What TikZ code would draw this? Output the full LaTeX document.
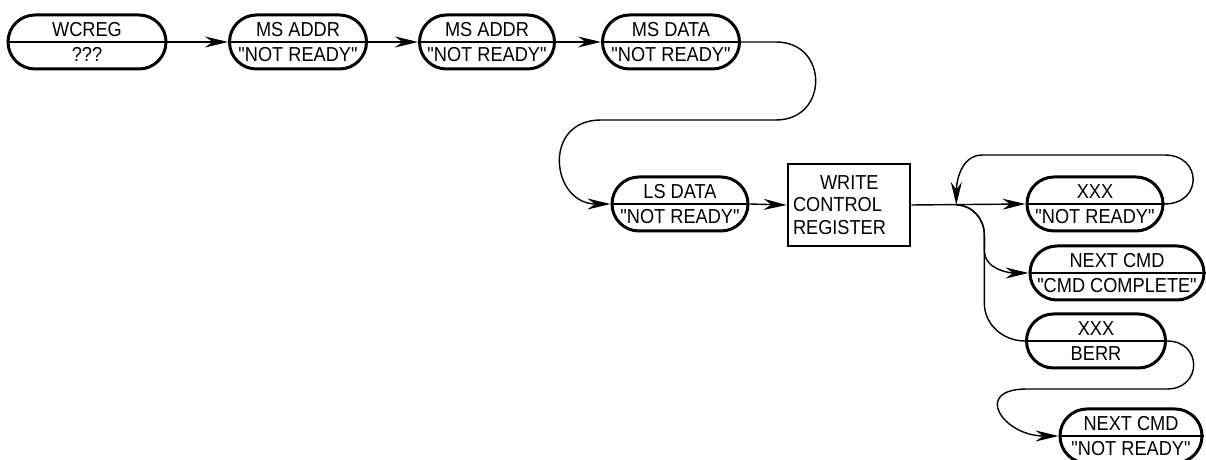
\documentclass[tikz,border=0pt]{standalone}
\usepackage{fontspec}
\setmainfont{Liberation Sans}[Ligatures=TeXOff, FakeStretch=0.9]
\usetikzlibrary{arrows.meta}

\begin{document}
\begin{tikzpicture}[
    x=0.2mm, y=0.2mm,
    state/.style={rectangle, draw, line width=1.7pt, rounded corners=5.4mm, minimum height=10.8mm, inner sep=0pt, align=center, font=\fontsize{11.5}{14.4}\selectfont},
    block/.style={rectangle, draw, line width=1.5pt, minimum width=24.4mm, minimum height=16.4mm, text width=22.4mm, inner xsep=1mm, align=left, font=\fontsize{11.5}{12.8}\selectfont},
    line/.style={draw, line width=0.8pt, -{Stealth[length=4.6mm, width=2.2mm, inset=1.5mm]}},
    link/.style={draw, line width=0.8pt}
]
\useasboundingbox (0,0) rectangle (1206,460);

\node [state, minimum width=31.6mm] (wcreg) at (87,418) {WCREG \\ ???};
\node [state, minimum width=27.4mm] (msaddr) at (298,418) {MS ADDR \\ "NOT READY"};
\node [state, minimum width=27mm] (msaddrb) at (487,418) {MS ADDR \\ "NOT READY"};
\node [state, minimum width=27.4mm] (msdata) at (671,418) {MS DATA \\ "NOT READY"};
\node [state, minimum width=27.2mm] (lsdata) at (680,256) {LS DATA \\ "NOT READY"};
\node [block] (wcr) at (849,255) {\hspace*{5.4mm}WRITE \\ CONTROL \\ REGISTER};
\node [state, minimum width=27.2mm] (xxxa) at (1095,256) {XXX \\ "NOT READY"};
\node [state, minimum width=34.8mm] (nextok) at (1117,187) {NEXT CMD \\ "CMD COMPLETE"};
\node [state, minimum width=27.8mm] (xxxb) at (1096,119) {XXX \\ BERR};
\node [state, minimum width=28.4mm] (nextnr) at (1131,24) {NEXT CMD \\ "NOT READY"};

\foreach \n in {wcreg,msaddr,msaddrb,msdata,lsdata,xxxa,nextok,xxxb,nextnr}
    \path [link] (\n.west) -- (\n.east);

\path [line] (wcreg.east) -- (msaddr.west);
\path [line] (msaddr.east) -- (msaddrb.west);
\path [line] (msaddrb.east) -- (msdata.west);
\path [line] (msdata.east) -- ++(35,0) to[out=0,in=0,looseness=1.74] ++(0,-78) -- ++(-175,0) to[out=180,in=180,looseness=1.8] (lsdata.west);
\path [line] (lsdata.east) -- (wcr.west);

\path [line] (wcr.east) -- (xxxa.west);
\path (wcr.east) ++(45,0) coordinate (fork);
\path [line] (xxxa.east) to[out=0,in=0,looseness=2] ++(0,49) -- ++(-182,0) to[out=180,in=90] (fork);
\path [line] (fork) to[out=0,in=90] ++(28,-30) -- ++(0,-15) to[out=270,in=180] (nextok.west);
\path [link] (fork) to[out=0,in=90] ++(28,-30) -- ++(0,-68) to[out=270,in=180] (xxxb.west);
\path [line] (xxxb.east) to[out=0,in=0,looseness=1.9] ++(0,-48) -- ++(-140,0) to[out=180,in=180,looseness=2.5] (nextnr.west);

\end{tikzpicture}
\end{document}
